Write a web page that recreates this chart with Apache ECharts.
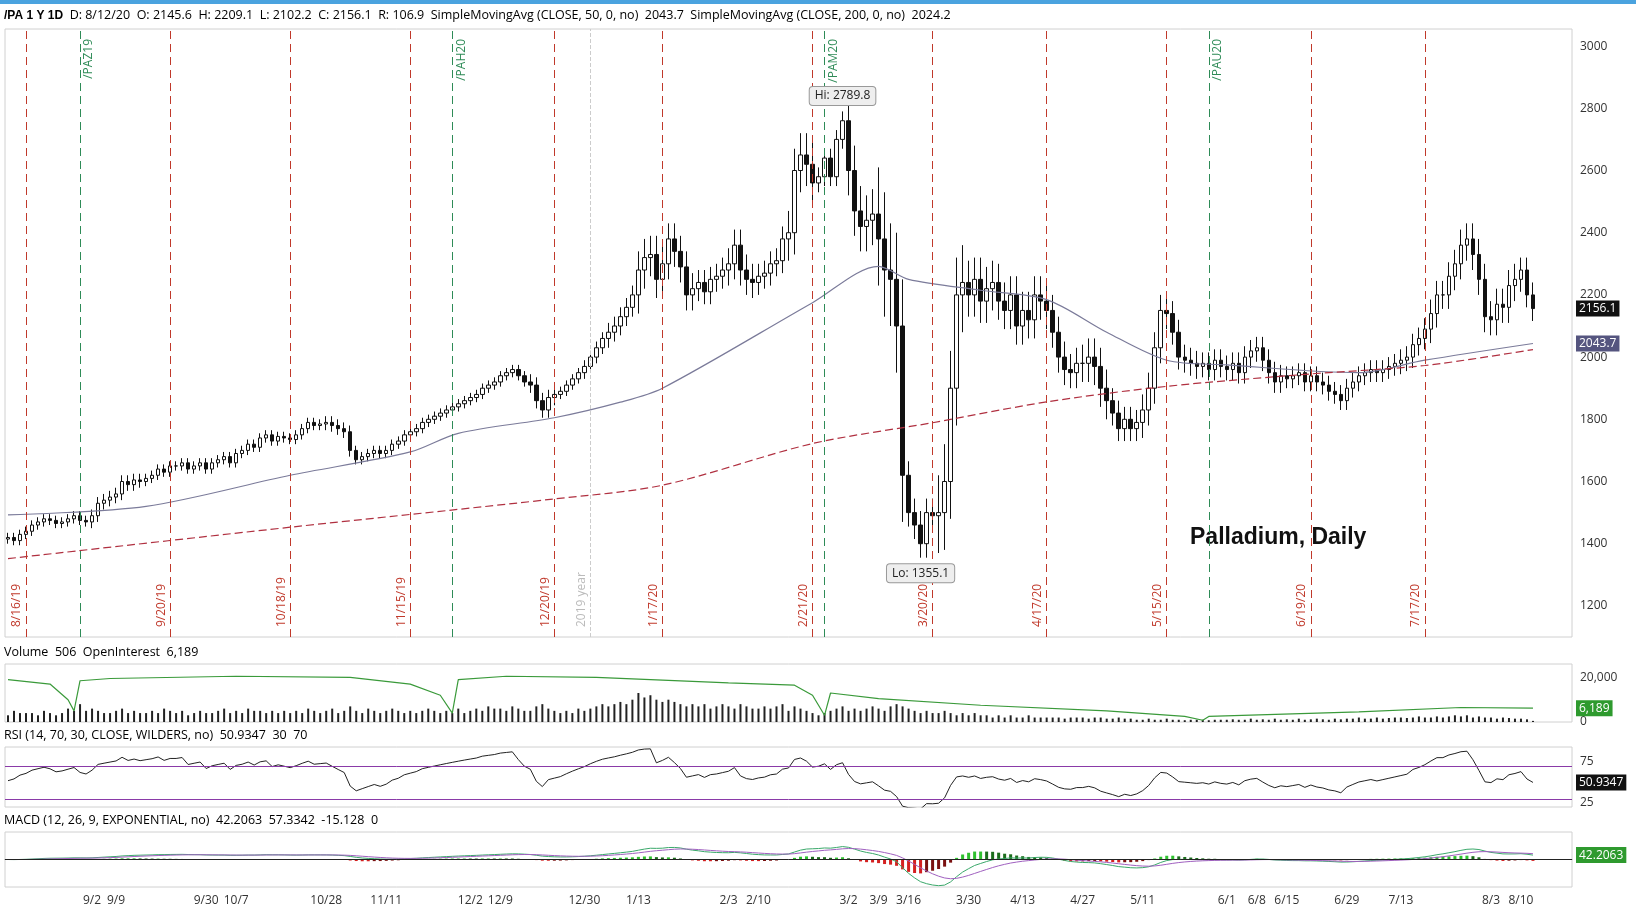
<!DOCTYPE html>
<html>
<head>
<meta charset="utf-8">
<script src="https://cdn.jsdelivr.net/npm/echarts@6/dist/echarts.min.js"></script>
<style>html,body{margin:0;padding:0;background:#fff}#chart{width:1636px;height:907px}</style>
</head>
<body>
<div id="chart"></div>
<script>
'use strict';

// weekly groups of daily closes, first day 2019-08-13
const closes = [
  [1420,1410,1430,1440],[1460,1470,1480,1475,1465],[1470,1480,1490,1475,1470],[1490,1530,1540,1550],
  [1560,1600,1590,1605,1600],[1610,1620,1640,1630,1650],[1650,1660,1640,1650,1660],[1640,1660,1670,1680,1660],
  [1690,1700,1720,1710,1740],[1750,1730,1745,1740,1735],[1750,1770,1790,1780,1785],[1790,1780,1770,1760,1700],
  [1670,1680,1690,1700,1690],[1700,1720,1730,1750,1760],[1770,1790,1800,1810,1820],[1830,1840,1850,1860],
  [1870,1880,1900,1910,1920],[1940,1950,1960,1940,1920],[1910,1860,1830,1870,1880],[1890,1910,1930,1950],
  [1970,2000,2030,2060],[2080,2100,2130,2160,2200],[2280,2320,2330,2250,2300],[2380,2340,2290,2200,2220],
  [2240,2210,2250,2260,2280],[2300,2360,2280,2250,2240],[2260,2270,2300,2310,2380],[2400,2600,2650,2620,2560],
  [2580,2640,2580,2700,2760],[2600,2470,2420,2440,2460],[2380,2280,2250,2100,1620],[1500,1460,1400,1500,1490],
  [1500,1600,1900,2200,2240],[2200,2250,2180,2220,2240],[2180,2150,2200,2100],[2150,2120,2200,2180,2150],
  [2080,2000,1960,1950,1980],[1980,2000,1970,1900,1860],[1820,1770,1800,1770,1790],[1830,1900,2030,2150,2140],
  [2080,2000,1990,1980,1970],[1980,1960,1990,1970],[1960,1980,1950,2000,2020],[2030,1990,1950,1920,1940],
  [1930,1940,1950,1920,1940],[1920,1910,1890,1880,1860],[1900,1920,1940,1950],[1960,1950,1960,1970,1980],
  [1990,2000,2040,2060,2090],[2140,2200,2200,2260,2300],[2360,2380,2330,2250,2130],[2120,2170,2160,2230,2250],
  [2280,2200,2156.1]
];
// typical wick length per week
const wicks = [15,15,15,20,20,15,15,15,15,15,15,20,15,15,15,15,15,15,25,15,20,30,60,50,40,50,40,70,30,80,
  150,45,120,70,60,60,50,60,40,50,40,35,35,35,30,30,30,30,35,45,50,50,40];
// daily volume, thousands
const volK = [
  [3,5,4,4],[4,3,5,4,3],[4,6,5,8,5],[6,5,4,4],[5,6,4,5,4],[4,5,4,6,5],[4,5,3,4,5],[4,4,5,6,4],[5,4,6,5,5],
  [4,5,4,5,4],[5,4,6,5,4],[5,6,4,5,7],[5,4,6,5,4],[5,6,5,4,5],[4,5,6,5,4],[5,4,6,4],[5,6,5,7,6],[6,5,7,6,5],
  [5,7,8,6,5],[4,5,4,6],[5,6,7,8],[7,8,9,8,10],[13,11,12,10,9],[10,9,8,7,8],[7,8,6,7,8],[7,6,8,7,6],[6,7,6,7,8],
  [5,7,6,5,4],[3,4,5,6,7],[5,6,5,6,7],[6,5,7,8,7],[6,5,4,5,4],[4,5,4,3,4],[3,4,3,3,2],[3,2,3,2],[2,3,2,2,2],
  [2,2,1.5,2,2],[2,1.5,2,2,1.5],[1.5,2,1.5,1.5,1],[1,1.5,1,1,1.5],[1,1,0.8,1,1],[1,0.8,1,1],[1,1.2,1,1,1.5],
  [1,1.2,1,1.5,1],[1.2,1,1.5,1,1.2],[1.5,1.2,1,1.5,1.2],[1.5,1.5,2,1.5],[1.5,2,1.5,1.8,2],[2,1.8,2,2.5,2],
  [2,2.5,2,2.5,3],[2.5,3,2,2.5,2],[2,1.5,2,1.8,1.5],[1.5,1.2,0.5]
];
const openInterest = [
  ['2019-08-13',19000],['2019-08-22',17000],['2019-08-27',10000],['2019-08-28',5000],['2019-08-29',18500],
  ['2019-09-06',19500],['2019-10-07',20500],['2019-11-01',20000],['2019-11-15',17000],['2019-11-22',12000],
  ['2019-11-26',4000],['2019-11-27',19000],['2019-12-10',20500],['2020-01-02',20000],['2020-02-03',17500],
  ['2020-02-18',16500],['2020-02-21',12000],['2020-02-25',3000],['2020-02-26',13000],['2020-03-09',10500],
  ['2020-04-01',7500],['2020-05-01',5000],['2020-05-20',2500],['2020-05-26',800],['2020-05-27',2500],
  ['2020-07-01',4500],['2020-07-27',6500],['2020-08-12',6189]
];
const sma50 = [
  ['2019-08-13',1493],['2019-09-16',1520],['2019-10-18',1620],['2019-11-15',1695],['2019-11-27',1755],
  ['2019-12-20',1805],['2020-01-08',1855],['2020-01-17',1900],['2020-02-21',2175],['2020-03-09',2292],
  ['2020-03-16',2250],['2020-04-01',2215],['2020-04-17',2185],['2020-05-01',2080],['2020-05-15',1990],
  ['2020-06-01',1975],['2020-07-01',1950],['2020-07-17',1990],['2020-08-12',2043.7]
];
const sma200 = [
  ['2019-08-13',1352],['2019-10-18',1453],['2019-12-20',1544],['2020-01-17',1588],['2020-02-21',1722],
  ['2020-03-20',1789],['2020-04-17',1856],['2020-05-15',1906],['2020-06-19',1946],['2020-07-17',1973],
  ['2020-08-12',2024.2]
];
const expiryLines = ['2019-08-16','2019-09-20','2019-10-18','2019-11-15','2019-12-20','2020-01-17',
  '2020-02-21','2020-03-20','2020-04-17','2020-05-15','2020-06-19','2020-07-17'];
const rollLines = [['2019-08-29','/PAZ19'],['2019-11-26','/PAH20'],['2020-02-25','/PAM20'],['2020-05-27','/PAU20']];
const tickLabels = ['2019-09-02','2019-09-09','2019-09-30','2019-10-07','2019-10-28','2019-11-11','2019-12-02',
  '2019-12-09','2019-12-30','2020-01-13','2020-02-03','2020-02-10','2020-03-02','2020-03-09','2020-03-16',
  '2020-03-30','2020-04-13','2020-04-27','2020-05-11','2020-06-01','2020-06-08','2020-06-15','2020-06-29',
  '2020-07-13','2020-08-03','2020-08-10'];

const holidays = new Set(['2019-09-02','2019-11-28','2019-12-25','2020-01-01','2020-04-10','2020-05-25','2020-07-03']);

// trading days
const flat = closes.flat();
const dates = [];
let d = new Date('2019-08-13T00:00:00Z');
while (dates.length < flat.length + 6) {
  const s = d.toISOString().slice(0, 10);
  const wd = d.getUTCDay();
  if (wd > 0 && wd < 6 && !holidays.has(s)) dates.push(s);
  d.setUTCDate(d.getUTCDate() + 1);
}
const n = flat.length;

const candles = [];
const vols = [];
let prev = 1415;
closes.forEach((wk, w) => {
  wk.forEach((c, i) => {
    const o = prev;
    const wl = wicks[w] || 30;
    candles.push([o, c, Math.min(o, c) - wl, Math.max(o, c) + wl]);
    vols.push(((volK[w] || [])[i] || 1) * 1000);
    prev = c;
  });
});

// RSI (Wilder 14), seeded with average moves
const rsi = [52];
let ag = 8, al = 6;
for (let i = 1; i < n; i++) {
  const ch = flat[i] - flat[i - 1];
  const g = Math.max(ch, 0), l = Math.max(-ch, 0);
  ag = (ag * 13 + g) / 14; al = (al * 13 + l) / 14;
  rsi[i] = al === 0 ? 100 : +(100 - 100 / (1 + ag / al)).toFixed(2);
}

// MACD 12/26/9
const ema = (arr, p) => { const k = 2 / (p + 1); const out = [arr[0]]; for (let i = 1; i < arr.length; i++) out.push(arr[i] * k + out[i - 1] * (1 - k)); return out; };
const e12 = ema(flat, 12), e26 = ema(flat, 26);
const macd = flat.map((_, i) => e12[i] - e26[i]);
const sig = ema(macd, 9);
const hist = macd.map((v, i) => v - sig[i]);
const mMax = Math.ceil(Math.max(...macd.map(Math.abs), ...sig.map(Math.abs)) * 1.05);

const labelIdx = {};
tickLabels.forEach(t => {
  const i = dates.findIndex(x => x >= t);
  if (i >= 0) labelIdx[i] = (+t.slice(5, 7)) + '/' + (+t.slice(8, 10));
});

const fnt = '"Open Sans", sans-serif';
const grids = [
  { left: 5, right: 64, top: 29, height: 608 },
  { left: 5, right: 64, top: 664, height: 58 },
  { left: 5, right: 64, top: 747, height: 60 },
  { left: 5, right: 64, top: 832, height: 58 }
];
const xAxes = grids.map((g, k) => ({
  type: 'category', gridIndex: k, data: dates, boundaryGap: true,
  axisLine: { show: k === 3, lineStyle: { color: '#999' } }, axisTick: { show: false },
  axisLabel: k === 3 ? { interval: 0, formatter: (v, i) => labelIdx[i] || '', color: '#333', fontSize: 12, fontFamily: fnt, margin: 8 } : { show: false }
}));
const yBase = { position: 'right', axisLine: { show: false }, axisTick: { show: false }, splitLine: { show: false },
  axisLabel: { color: '#333', fontSize: 12, fontFamily: fnt, margin: 8 } };

const valTag = (v, text, bg, col) => ({ yAxis: v, lineStyle: { color: 'rgba(0,0,0,0)', width: 0 }, symbol: 'none',
  label: { show: true, position: 'end', formatter: text, backgroundColor: bg, color: col || '#fff', padding: [2, 3], fontSize: 12, fontFamily: fnt, distance: 4 } });

const vlines = expiryLines.map(x => ({ xAxis: x, lineStyle: { color: '#c0392b', type: [8, 5], width: 1 },
  label: { show: true, position: 'insideStartTop', formatter: (+x.slice(5, 7)) + '/' + (+x.slice(8, 10)) + '/' + x.slice(2, 4), color: '#c0392b', fontSize: 12, fontFamily: fnt, distance: [10, 3] } }))
  .concat(rollLines.map(r => ({ xAxis: r[0], lineStyle: { color: '#2e8b57', type: [8, 5], width: 1 },
    label: { show: true, position: 'insideEndBottom', formatter: r[1], color: '#2e8b57', fontSize: 12, fontFamily: fnt, distance: [10, 3] } })))
  .concat([{ xAxis: '2019-12-31', lineStyle: { color: '#ccc', type: 'dashed', width: 1 },
    label: { show: true, position: 'insideStartTop', formatter: '2019 year', color: '#bbb', fontSize: 12, fontFamily: fnt, distance: [10, 3] } }]);

const tagLabel = (pos, text) => ({ show: true, position: pos, distance: 6, formatter: text, backgroundColor: '#eee', borderColor: '#999',
  borderWidth: 1, borderRadius: 3, padding: [3, 5], color: '#222', fontSize: 12, fontFamily: fnt });

const option = {
  animation: false,
  backgroundColor: '#fff',
  grid: grids.map(g => Object.assign({ show: true, borderColor: '#d0d0d0', borderWidth: 1 }, g)),
  xAxis: xAxes,
  yAxis: [
    Object.assign({}, yBase, { gridIndex: 0, min: 1100, max: 3055, interval: 100, axisLabel: Object.assign({}, yBase.axisLabel, { formatter: v => v % 200 === 0 && v >= 1200 && v <= 3000 ? v : '' }) }),
    Object.assign({}, yBase, { gridIndex: 1, min: 0, max: 26000, interval: 20000, axisLabel: Object.assign({}, yBase.axisLabel, { formatter: v => v === 20000 ? '20,000' : (v === 0 ? '0' : '') }) }),
    Object.assign({}, yBase, { gridIndex: 2, min: 20, max: 93, interval: 5, axisLabel: Object.assign({}, yBase.axisLabel, { formatter: v => (v === 25 || v === 75) ? v : '' }) }),
    Object.assign({}, yBase, { gridIndex: 3, min: -mMax, max: mMax, interval: mMax, axisLabel: Object.assign({}, yBase.axisLabel, { formatter: v => v === 0 ? '0' : '' }) })
  ],
  series: [
    { type: 'candlestick', name: 'PA', xAxisIndex: 0, yAxisIndex: 0, data: candles, barWidth: 4,
      itemStyle: { color: '#fff', color0: '#111', borderColor: '#111', borderColor0: '#111', borderWidth: 1 },
      markLine: { silent: true, symbol: 'none', data: vlines.concat([valTag(2156.1, '2156.1', '#111')]) },
      markPoint: { symbol: 'circle', symbolSize: 1, itemStyle: { color: 'rgba(0,0,0,0)' }, data: [
        { coord: ['2020-02-28', 2789.8], label: tagLabel('top', 'Hi: 2789.8') },
        { coord: ['2020-03-18', 1355.1], label: tagLabel('bottom', 'Lo: 1355.1') }
      ] } },
    { type: 'line', name: 'SMA50', xAxisIndex: 0, yAxisIndex: 0, data: sma50, smooth: 0.3, showSymbol: false,
      lineStyle: { color: '#7b7b9a', width: 1.2 }, markLine: { silent: true, symbol: 'none', data: [valTag(2043.7, '2043.7', '#55557f')] } },
    { type: 'line', name: 'SMA200', xAxisIndex: 0, yAxisIndex: 0, data: sma200, smooth: 0.3, showSymbol: false,
      lineStyle: { color: '#b03040', width: 1.2, type: [8, 4] } },
    { type: 'bar', name: 'Volume', xAxisIndex: 1, yAxisIndex: 1, data: vols, barWidth: 2, itemStyle: { color: '#222' } },
    { type: 'line', name: 'OI', xAxisIndex: 1, yAxisIndex: 1, data: openInterest, showSymbol: false,
      lineStyle: { color: '#3a9a3a', width: 1.2 }, markLine: { silent: true, symbol: 'none', data: [valTag(6189, '6,189', '#2e9a2e')] } },
    { type: 'line', name: 'RSI', xAxisIndex: 2, yAxisIndex: 2, data: rsi, showSymbol: false,
      lineStyle: { color: '#222', width: 1 },
      markLine: { silent: true, symbol: 'none', data: [
        { yAxis: 70, lineStyle: { color: '#8a3aa8', type: 'solid', width: 1 }, label: { show: false } },
        { yAxis: 30, lineStyle: { color: '#8a3aa8', type: 'solid', width: 1 }, label: { show: false } },
        valTag(rsi[n - 1], '50.9347', '#111')] } },
    { type: 'bar', name: 'Diff', xAxisIndex: 3, yAxisIndex: 3, data: hist.map((v, i) => ({ value: v,
      itemStyle: { color: v >= 0 ? (i > 0 && v >= hist[i - 1] ? '#2fc02f' : '#1b6d1b') : (i > 0 && v <= hist[i - 1] ? '#d42020' : '#7a1010') } })), barWidth: 3 },
    { type: 'line', name: 'MACD', xAxisIndex: 3, yAxisIndex: 3, data: macd, showSymbol: false,
      lineStyle: { color: '#3aa86a', width: 1 },
      markLine: { silent: true, symbol: 'none', data: [
        { yAxis: 0, lineStyle: { color: '#222', type: 'solid', width: 1 }, label: { show: false } },
        valTag(macd[n - 1], '42.2063', '#2e9a2e')] } },
    { type: 'line', name: 'Avg', xAxisIndex: 3, yAxisIndex: 3, data: sig, showSymbol: false, lineStyle: { color: '#a060c0', width: 1 } }
  ],
  graphic: [
    { type: 'rect', left: 0, top: 0, shape: { width: 1636, height: 4 }, style: { fill: '#4aa3df' } },
    { type: 'text', left: 4, top: 9, style: { fontFamily: fnt, fontSize: 12.5,
      text: '{b|/PA 1 Y 1D}  {n|D: 8/12/20}  {n|O: 2145.6}  {n|H: 2209.1}  {n|L: 2102.2}  {n|C: 2156.1}  {n|R: 106.9}  {g|SimpleMovingAvg (CLOSE, 50, 0, no)}  {p|2043.7}  {r|SimpleMovingAvg (CLOSE, 200, 0, no)}  {r|2024.2}',
      rich: { b: { fontWeight: 'bold', color: '#111' }, n: { color: '#222' }, g: { color: '#666' }, p: { color: '#55557f' }, r: { color: '#b03040' } } } },
    { type: 'text', left: 4, top: 646, style: { fontFamily: fnt, fontSize: 12.5,
      text: '{n|Volume}  {n|506}  {g|OpenInterest}  {g|6,189}', rich: { n: { color: '#222' }, g: { color: '#2e8b2e' } } } },
    { type: 'text', left: 4, top: 729, style: { fontFamily: fnt, fontSize: 12.5,
      text: '{n|RSI (14, 70, 30, CLOSE, WILDERS, no)}  {n|50.9347}  {p|30}  {p|70}', rich: { n: { color: '#222' }, p: { color: '#a040c0' } } } },
    { type: 'text', left: 4, top: 814, style: { fontFamily: fnt, fontSize: 12.5,
      text: '{g|MACD (12, 26, 9, EXPONENTIAL, no)}  {g|42.2063}  {p|57.3342}  {r|-15.128}  {n|0}', rich: { n: { color: '#222' }, g: { color: '#2e8b2e' }, p: { color: '#a040c0' }, r: { color: '#c02020' } } } },
    { type: 'text', left: 1190, top: 526, style: { text: 'Palladium, Daily', fontFamily: 'Liberation Sans, Arial, sans-serif', fontSize: 23, fontWeight: 'bold', fill: '#111' } }
  ]
};

const chart = echarts.init(document.getElementById('chart'));
chart.setOption(option);
</script>
</body>
</html>
